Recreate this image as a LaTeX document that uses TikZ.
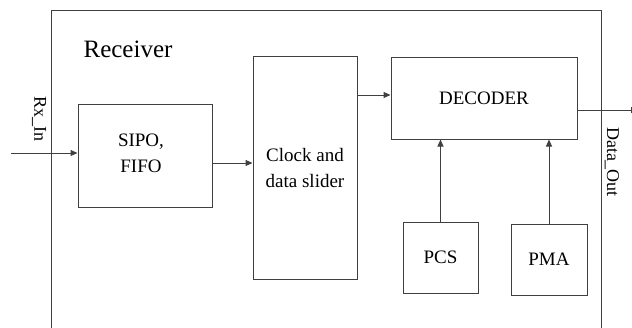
\documentclass[tikz,border=0pt]{standalone}
\usepackage{fontspec}
\setmainfont{Liberation Serif}
\usetikzlibrary{arrows.meta}
\begin{document}
\begin{tikzpicture}[x=1pt,y=-1pt,
  line/.style={draw=black!75,line width=1pt},
  blk/.style={line,rectangle,inner sep=0pt,font=\fontsize{19}{26}\selectfont,align=center},
  arr/.style={line,-{Triangle[length=7pt,width=6pt]}},
  lbl/.style={font=\fontsize{18}{22}\selectfont,inner sep=0pt,rotate=-90}]
\useasboundingbox (0,0) rectangle (632,327);

% enclosing receiver frame, open at the bottom
\draw[line] (51,340) -- (51,10) -- (601,10) -- (601,340);
\node[font=\fontsize{25}{30}\selectfont] (title) at (128,49) {Receiver};

% blocks
\node[blk,minimum width=134pt,minimum height=103pt] (sipo) at (145,155.5) {};
\node[font=\fontsize{19}{26}\selectfont,align=center] (sipotxt) at (141,153) {SIPO,\\FIFO};
\node[blk,minimum width=104pt,minimum height=223pt] (clk) at (305,167.5) {Clock and\\data slider};
\node[blk,minimum width=186pt,minimum height=82pt] (dec) at (484,98) {DECODER};
\node[blk,minimum width=75pt,minimum height=71pt] (pcs) at (440.5,257.5) {PCS};
\node[blk,minimum width=76pt,minimum height=71pt] (pma) at (549,259.5) {PMA};

% signal levels and free ends
\coordinate (rxin) at (11,153);
\coordinate (ya) at (0,163);
\coordinate (yb) at (0,95);
\coordinate (yc) at (0,110);
\coordinate (dout) at (638,110);

% connectors
\draw[arr] (rxin) -- (sipo.west |- rxin);
\draw[arr] (sipo.east |- ya) -- (clk.west |- ya);
\draw[arr] (clk.east |- yb) -- (dec.west |- yb);
\draw[arr] (pcs.north) -- (pcs.north |- dec.south);
\draw[arr] (pma.north) -- (pma.north |- dec.south);
\draw[arr] (dec.east |- yc) -- (dout);

% port labels
\node[lbl] (rxlbl) at (39,119) {Rx\_In};
\node[lbl] (doutlbl) at (612,162) {Data\_Out};
\end{tikzpicture}
\end{document}
